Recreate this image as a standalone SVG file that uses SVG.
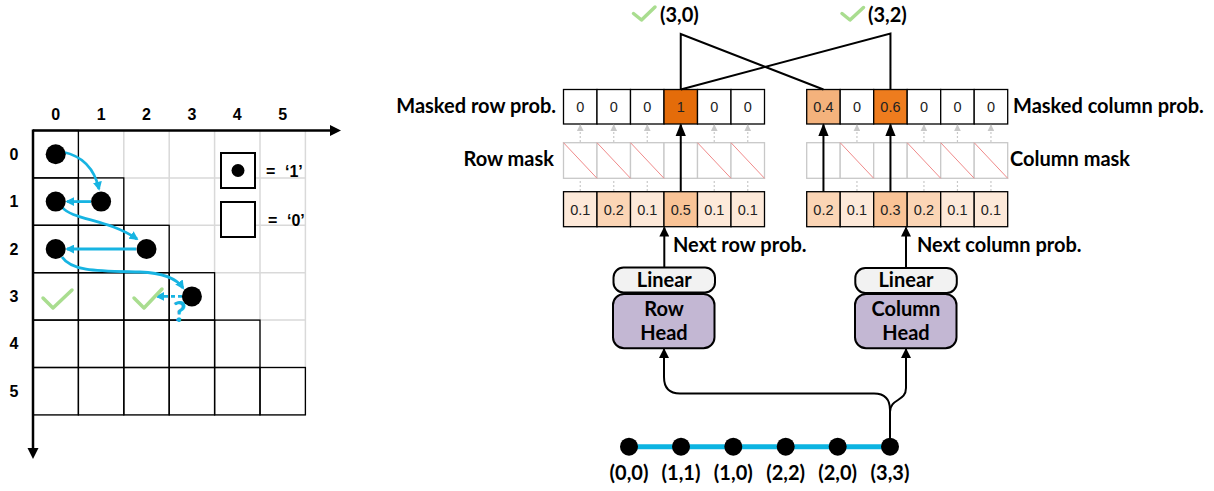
<svg xmlns="http://www.w3.org/2000/svg" width="1214" height="491" viewBox="0 0 1214 491">
<defs>
<style>
.lg{stroke:#d9d9d9;stroke-width:1.5;fill:none}
.bc{fill:none;stroke:#000;stroke-width:1.3}
.ax{stroke:#000;stroke-width:2.5;fill:none}
.lbl{font-family:"Liberation Sans",Arial,sans-serif;font-weight:bold;font-size:16px;fill:#000}
.blue{stroke:#17b4e2;stroke-width:2.8;fill:none}
.chk{stroke:#a9dd8f;stroke-width:3.5;fill:none;stroke-linecap:round;stroke-linejoin:round}
.cell{stroke:#000;stroke-width:1.3}
.mcell{fill:#fff;stroke:#c8c8c8;stroke-width:1.3}
.diag{stroke:#f08a8a;stroke-width:1}
.num{font-family:"Liberation Sans",Arial,sans-serif;font-size:14.5px;fill:#222;text-anchor:middle}
.t{font-family:Lato,"Liberation Sans",sans-serif;font-weight:bold;font-size:20px;fill:#000}
.gd{stroke:#c8c8c8;stroke-width:1.2;stroke-dasharray:2,2;fill:none}
.ba{stroke:#000;stroke-width:2;fill:none}
.box{stroke:#000;stroke-width:2}
</style>
<marker id="ablue" viewBox="0 0 10 10" refX="8" refY="5" markerWidth="9" markerHeight="9" orient="auto" markerUnits="userSpaceOnUse"><path d="M0,0 L10,5 L0,10 z" fill="#17b4e2"/></marker>
<marker id="ak" viewBox="0 0 10 10" refX="9" refY="5" markerWidth="10" markerHeight="10" orient="auto" markerUnits="userSpaceOnUse"><path d="M0,0 L10,5 L0,10 z" fill="#000"/></marker>
<marker id="akb" viewBox="0 0 10 10" refX="9" refY="5" markerWidth="13" markerHeight="13" orient="auto" markerUnits="userSpaceOnUse"><path d="M0,1 L10,5 L0,9 z" fill="#000"/></marker>
<marker id="ag" viewBox="0 0 10 10" refX="9" refY="5" markerWidth="7" markerHeight="7" orient="auto" markerUnits="userSpaceOnUse"><path d="M0,0 L10,5 L0,10 z" fill="#c8c8c8"/></marker>
</defs>

<g id="grid">
<path class="lg" d="M78.4,130.5V414.9M123.8,130.5V414.9M169.2,130.5V414.9M214.6,130.5V414.9M260,130.5V414.9M305.4,130.5V414.9M33,177.9H305.4M33,225.3H305.4M33,272.7H305.4M33,320.1H305.4M33,367.5H305.4M33,414.9H305.4"/>
<rect class="bc" x="33" y="130.5" width="45.4" height="47.4"/>
<rect class="bc" x="33" y="177.9" width="45.4" height="47.4"/><rect class="bc" x="78.4" y="177.9" width="45.4" height="47.4"/>
<rect class="bc" x="33" y="225.3" width="45.4" height="47.4"/><rect class="bc" x="78.4" y="225.3" width="45.4" height="47.4"/><rect class="bc" x="123.8" y="225.3" width="45.4" height="47.4"/>
<rect class="bc" x="33" y="272.7" width="45.4" height="47.4"/><rect class="bc" x="78.4" y="272.7" width="45.4" height="47.4"/><rect class="bc" x="123.8" y="272.7" width="45.4" height="47.4"/><rect class="bc" x="169.2" y="272.7" width="45.4" height="47.4"/>
<rect class="bc" x="33" y="320.1" width="45.4" height="47.4"/><rect class="bc" x="78.4" y="320.1" width="45.4" height="47.4"/><rect class="bc" x="123.8" y="320.1" width="45.4" height="47.4"/><rect class="bc" x="169.2" y="320.1" width="45.4" height="47.4"/><rect class="bc" x="214.6" y="320.1" width="45.4" height="47.4"/>
<rect class="bc" x="33" y="367.5" width="45.4" height="47.4"/><rect class="bc" x="78.4" y="367.5" width="45.4" height="47.4"/><rect class="bc" x="123.8" y="367.5" width="45.4" height="47.4"/><rect class="bc" x="169.2" y="367.5" width="45.4" height="47.4"/><rect class="bc" x="214.6" y="367.5" width="45.4" height="47.4"/><rect class="bc" x="260" y="367.5" width="45.4" height="47.4"/>
<path class="ax" d="M33,130.5H332"/><path d="M330,125 L341,130.5 L330,136 z"/>
<path class="ax" d="M33,129.5V450"/><path d="M27.5,448 L33,459 L38.5,448 z"/>
<g class="lbl" text-anchor="middle">
<text x="55.7" y="120">0</text><text x="101.1" y="120">1</text><text x="146.5" y="120">2</text><text x="191.9" y="120">3</text><text x="237.3" y="120">4</text><text x="282.7" y="120">5</text>
<text x="14" y="160">0</text><text x="14" y="207">1</text><text x="14" y="255">2</text><text x="14" y="302">3</text><text x="14" y="349">4</text><text x="14" y="397">5</text>
</g>
<rect x="221" y="153" width="34" height="35" fill="#fff" stroke="#000" stroke-width="2"/>
<circle cx="238" cy="170.5" r="6.5"/>
<text class="lbl" x="266" y="177" font-size="18">=</text><text class="lbl" x="285" y="177" font-size="18">‘1’</text>
<rect x="221" y="202" width="34" height="35" fill="#fff" stroke="#000" stroke-width="2"/>
<text class="lbl" x="268" y="226" font-size="18">=</text><text class="lbl" x="287" y="226" font-size="18">‘0’</text>
<path class="blue" marker-end="url(#ablue)" d="M63,152 Q92,158 99,189"/>
<path class="blue" marker-end="url(#ablue)" d="M91,201.6 H67"/>
<path class="blue" marker-end="url(#ablue)" d="M62,207 C72,220 108,219 137,239"/>
<path class="blue" marker-end="url(#ablue)" d="M136,249 H67"/>
<path class="blue" marker-end="url(#ablue)" d="M62,257 C72,272 100,271 140,272 C165,273 177,279 183,288"/>
<path class="blue" stroke-dasharray="4,3" marker-end="url(#ablue)" d="M182,296.4 H157"/>
<text x="179.5" y="322" text-anchor="middle" font-family="Lato,Liberation Sans,sans-serif" font-weight="900" font-size="29" fill="#17b4e2">?</text>
<circle cx="55.7" cy="154.2" r="10"/>
<circle cx="55.7" cy="201.6" r="10"/><circle cx="101.1" cy="201.6" r="10"/>
<circle cx="55.7" cy="249" r="10"/><circle cx="146.5" cy="249" r="10"/>
<circle cx="191.9" cy="296.4" r="10"/>
<path class="chk" d="M43,298 L53,308 L72,290"/>
<path class="chk" d="M134,298 L144,308 L162,289"/>
</g>

<g id="row-masked">
<text class="t" x="556" y="113" text-anchor="end">Masked row prob.</text>
<rect class="cell" fill="#fff" x="563.5" y="89.5" width="33.5" height="34.5"/><rect class="cell" fill="#fff" x="597" y="89.5" width="33.5" height="34.5"/><rect class="cell" fill="#fff" x="630.5" y="89.5" width="33.5" height="34.5"/><rect class="cell" fill="#e46c0a" x="664" y="89.5" width="33.5" height="34.5"/><rect class="cell" fill="#fff" x="697.5" y="89.5" width="33.5" height="34.5"/><rect class="cell" fill="#fff" x="731" y="89.5" width="33.5" height="34.5"/>
<text class="num" x="580.25" y="112">0</text><text class="num" x="613.75" y="112">0</text><text class="num" x="647.25" y="112">0</text><text class="num" x="680.75" y="112">1</text><text class="num" x="714.25" y="112">0</text><text class="num" x="747.75" y="112">0</text>
</g>
<g id="row-mask">
<text class="t" x="554" y="166" text-anchor="end">Row mask</text>
<rect class="mcell" x="563.5" y="142.7" width="33.5" height="35.6"/><rect class="mcell" x="597" y="142.7" width="33.5" height="35.6"/><rect class="mcell" x="630.5" y="142.7" width="33.5" height="35.6"/><rect class="mcell" x="664" y="142.7" width="33.5" height="35.6"/><rect class="mcell" x="697.5" y="142.7" width="33.5" height="35.6"/><rect class="mcell" x="731" y="142.7" width="33.5" height="35.6"/>
<path class="diag" d="M563.5,142.7 L597,178.3 M597,142.7 L630.5,178.3 M630.5,142.7 L664,178.3 M697.5,142.7 L731,178.3 M731,142.7 L764.5,178.3"/>
</g>
<g id="row-prob">
<rect class="cell" fill="#fde9d9" x="563.5" y="191.7" width="33.5" height="35"/><rect class="cell" fill="#fbd5b5" x="597" y="191.7" width="33.5" height="35"/><rect class="cell" fill="#fde9d9" x="630.5" y="191.7" width="33.5" height="35"/><rect class="cell" fill="#f9c396" x="664" y="191.7" width="33.5" height="35"/><rect class="cell" fill="#fde9d9" x="697.5" y="191.7" width="33.5" height="35"/><rect class="cell" fill="#fde9d9" x="731" y="191.7" width="33.5" height="35"/>
<text class="num" x="580.25" y="214.5">0.1</text><text class="num" x="613.75" y="214.5">0.2</text><text class="num" x="647.25" y="214.5">0.1</text><text class="num" x="680.75" y="214.5">0.5</text><text class="num" x="714.25" y="214.5">0.1</text><text class="num" x="747.75" y="214.5">0.1</text>
</g>

<g id="col-masked">
<text class="t" x="1013" y="113">Masked column prob.</text>
<rect class="cell" fill="#f4b27c" x="806.7" y="89.5" width="33.5" height="34.5"/><rect class="cell" fill="#fff" x="840.2" y="89.5" width="33.5" height="34.5"/><rect class="cell" fill="#ee7c1e" x="873.7" y="89.5" width="33.5" height="34.5"/><rect class="cell" fill="#fff" x="907.2" y="89.5" width="33.5" height="34.5"/><rect class="cell" fill="#fff" x="940.7" y="89.5" width="33.5" height="34.5"/><rect class="cell" fill="#fff" x="974.2" y="89.5" width="33.5" height="34.5"/>
<text class="num" x="823.45" y="112">0.4</text><text class="num" x="856.95" y="112">0</text><text class="num" x="890.45" y="112">0.6</text><text class="num" x="923.95" y="112">0</text><text class="num" x="957.45" y="112">0</text><text class="num" x="990.95" y="112">0</text>
</g>
<g id="col-mask">
<text class="t" x="1010" y="166">Column mask</text>
<rect class="mcell" x="806.7" y="142.7" width="33.5" height="35.6"/><rect class="mcell" x="840.2" y="142.7" width="33.5" height="35.6"/><rect class="mcell" x="873.7" y="142.7" width="33.5" height="35.6"/><rect class="mcell" x="907.2" y="142.7" width="33.5" height="35.6"/><rect class="mcell" x="940.7" y="142.7" width="33.5" height="35.6"/><rect class="mcell" x="974.2" y="142.7" width="33.5" height="35.6"/>
<path class="diag" d="M840.2,142.7 L873.7,178.3 M907.2,142.7 L940.7,178.3 M940.7,142.7 L974.2,178.3 M974.2,142.7 L1007.7,178.3"/>
</g>
<g id="col-prob">
<rect class="cell" fill="#fbd5b5" x="806.7" y="191.7" width="33.5" height="35"/><rect class="cell" fill="#fde9d9" x="840.2" y="191.7" width="33.5" height="35"/><rect class="cell" fill="#f9c396" x="873.7" y="191.7" width="33.5" height="35"/><rect class="cell" fill="#fbd5b5" x="907.2" y="191.7" width="33.5" height="35"/><rect class="cell" fill="#fde9d9" x="940.7" y="191.7" width="33.5" height="35"/><rect class="cell" fill="#fde9d9" x="974.2" y="191.7" width="33.5" height="35"/>
<text class="num" x="823.45" y="214.5">0.2</text><text class="num" x="856.95" y="214.5">0.1</text><text class="num" x="890.45" y="214.5">0.3</text><text class="num" x="923.95" y="214.5">0.2</text><text class="num" x="957.45" y="214.5">0.1</text><text class="num" x="990.95" y="214.5">0.1</text>
</g>

<g id="result-labels">
<path class="chk" stroke-width="3" d="M633.5,13.5 L641.5,20 L655,7"/>
<text class="t" x="660" y="22" font-size="19">(3,0)</text>
<path class="chk" stroke-width="3" d="M842,13.5 L850,20 L863.5,7.5"/>
<text class="t" x="868" y="22" font-size="19">(3,2)</text>
</g>

<g id="row-head">
<rect class="box" fill="#f2f2f2" x="613.5" y="267.5" width="101.5" height="25" rx="10"/>
<text class="t" x="664.3" y="287" text-anchor="middle" font-size="19">Linear</text>
<rect class="box" fill="#c3b7d3" x="613" y="294" width="101.5" height="54.3" rx="11"/>
<text class="t" x="664" y="315.5" text-anchor="middle" font-size="19">Row</text>
<text class="t" x="664" y="339.5" text-anchor="middle" font-size="19">Head</text>
</g>
<g id="col-head">
<rect class="box" fill="#f2f2f2" x="855.3" y="268" width="101.5" height="25" rx="10"/>
<text class="t" x="906" y="287" text-anchor="middle" font-size="19">Linear</text>
<rect class="box" fill="#c3b7d3" x="855" y="294" width="101.5" height="54.3" rx="11"/>
<text class="t" x="906" y="315.5" text-anchor="middle" font-size="19">Column</text>
<text class="t" x="906" y="339.5" text-anchor="middle" font-size="19">Head</text>
</g>

<g id="sequence">
<path d="M629,446.7 H890" stroke="#0cb4e2" stroke-width="5"/>
<circle cx="629" cy="446.7" r="9"/><circle cx="681" cy="446.7" r="9"/><circle cx="733.3" cy="446.7" r="9"/><circle cx="785.7" cy="446.7" r="9"/><circle cx="837.7" cy="446.7" r="9"/><circle cx="890" cy="446.7" r="9"/>
<g class="t" text-anchor="middle" font-size="18.5">
<text x="629" y="480">(0,0)</text><text x="681" y="480">(1,1)</text><text x="733.3" y="480">(1,0)</text><text x="785.7" y="480">(2,2)</text><text x="837.7" y="480">(2,0)</text><text x="890" y="480">(3,3)</text>
</g>
</g>

<g id="connectors">
<path class="gd" marker-end="url(#ag)" d="M580.25,142 V125"/><path class="gd" marker-end="url(#ag)" d="M613.75,142 V125"/><path class="gd" marker-end="url(#ag)" d="M647.25,142 V125"/><path class="gd" marker-end="url(#ag)" d="M714.25,142 V125"/><path class="gd" marker-end="url(#ag)" d="M747.75,142 V125"/>
<path class="gd" d="M580.25,191 V179 M613.75,191 V179 M647.25,191 V179 M714.25,191 V179 M747.75,191 V179"/>
<path class="gd" marker-end="url(#ag)" d="M856.95,142 V125"/><path class="gd" marker-end="url(#ag)" d="M923.95,142 V125"/><path class="gd" marker-end="url(#ag)" d="M957.45,142 V125"/><path class="gd" marker-end="url(#ag)" d="M990.95,142 V125"/>
<path class="gd" d="M856.95,191 V179 M923.95,191 V179 M957.45,191 V179 M990.95,191 V179"/>
<path class="ba" marker-end="url(#akb)" d="M680.75,191.7 V124.5"/>
<path class="ba" marker-end="url(#akb)" d="M823.45,191.7 V124.5"/>
<path class="ba" marker-end="url(#akb)" d="M890.45,191.7 V124.5"/>
<path class="ba" d="M680.75,89.5 V34 L823.45,89.5"/>
<path class="ba" d="M680.75,89.5 L890.45,33.5 V89.5"/>
<path class="ba" marker-end="url(#ak)" d="M664.3,267.5 V227.5"/>
<text class="t" x="673" y="252">Next row prob.</text>
<path class="ba" marker-end="url(#ak)" d="M906,268 V227.5"/>
<text class="t" x="917" y="252">Next column prob.</text>
<path class="ba" marker-end="url(#ak)" d="M890,446 V410 Q890,393.5 874,393.5 H680 Q664,393.5 664,377 V349"/>
<path class="ba" marker-end="url(#ak)" d="M890,412 C890,398 906,402 906,388 V349"/>
</g>
</svg>
